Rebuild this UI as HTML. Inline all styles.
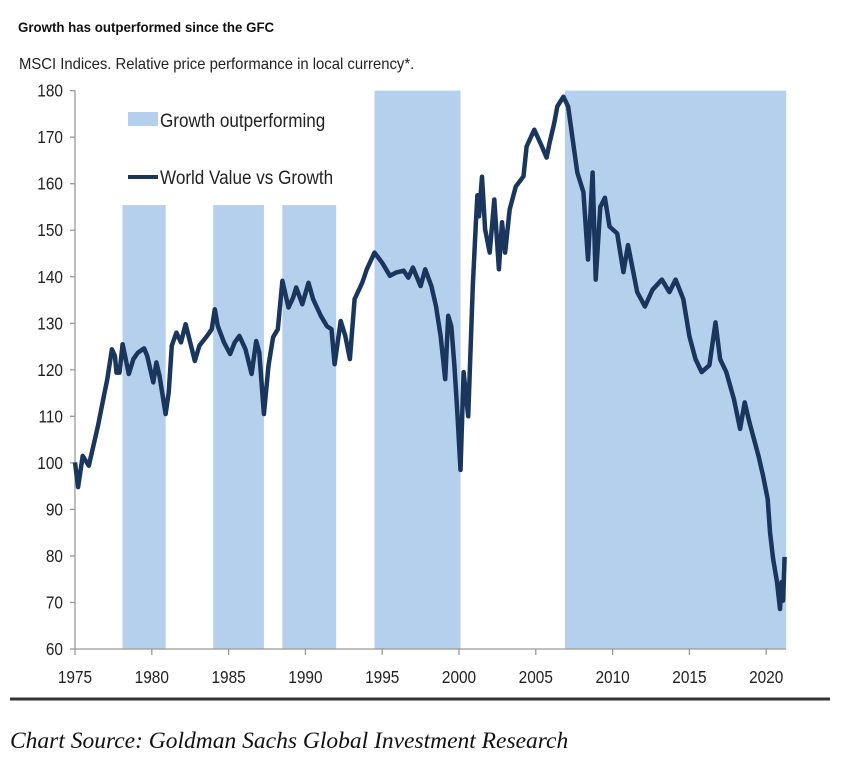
<!DOCTYPE html>
<html><head><meta charset="utf-8"><style>
body{margin:0;background:#fff;}
svg{display:block;font-family:"Liberation Sans",Arial,sans-serif;}
</style></head><body>
<svg id="c" width="846" height="769" viewBox="0 0 846 769">
<text x="18" y="32" font-size="14" font-weight="bold" fill="#111" transform="translate(18,0) scale(0.95,1) translate(-18,0)">Growth has outperformed since the GFC</text>
<text x="19" y="69" font-size="15.8" fill="#222" transform="translate(19,0) scale(0.94,1) translate(-19,0)">MSCI Indices. Relative price performance in local currency*.</text>
<g id="bands"></g>
<g id="axes"></g>
<g id="legend">
<rect x="128" y="112" width="30" height="14" fill="#b4d0ec"/>
<text x="160" y="127" font-size="19" fill="#222" transform="translate(160,0) scale(0.9,1) translate(-160,0)">Growth outperforming</text>
<line x1="128" y1="177" x2="158" y2="177" stroke="#1b365d" stroke-width="4"/>
<text x="160" y="184" font-size="19" fill="#222" transform="translate(160,0) scale(0.9,1) translate(-160,0)">World Value vs Growth</text>
</g>
<path id="line" fill="none" stroke="#1b365d" stroke-width="4.5" stroke-linejoin="round"/>
<line x1="10" y1="699" x2="830" y2="699" stroke="#333" stroke-width="3"/>
<text x="10" y="748" font-size="23.5" font-style="italic" fill="#111" style="font-family:'Liberation Serif',serif">Chart Source: Goldman Sachs Global Investment Research</text>
</svg>
<script>
const bandStarts=[1978.1,1984.0,1988.5,1994.5,2006.9];
const bandEnds=[1980.9,1987.3,1992.0,2000.1,2021.3];
const bandTops=[155.4,155.4,155.4,180,180];
const yTicks=[60,70,80,90,100,110,120,130,140,150,160,170,180];
const xTicks=[1975,1980,1985,1990,1995,2000,2005,2010,2015,2020];
const years=[1975.0,1975.2,1975.5,1975.9,1976.2,1976.5,1976.8,1977.1,1977.4,1977.6,1977.7,1977.9,1978.1,1978.5,1978.8,1979.1,1979.5,1979.7,1980.1,1980.3,1980.5,1980.9,1981.1,1981.3,1981.6,1981.9,1982.2,1982.5,1982.8,1983.1,1983.6,1983.9,1984.1,1984.3,1984.7,1985.1,1985.4,1985.7,1986.1,1986.5,1986.8,1987.0,1987.3,1987.6,1987.9,1988.2,1988.5,1988.9,1989.2,1989.4,1989.8,1990.2,1990.5,1991.0,1991.4,1991.7,1991.9,1992.3,1992.6,1992.9,1993.2,1993.7,1994.0,1994.5,1995.0,1995.5,1995.9,1996.4,1996.7,1997.0,1997.5,1997.8,1998.2,1998.5,1998.8,1999.1,1999.3,1999.5,1999.7,1999.9,2000.1,2000.3,2000.6,2000.9,2001.1,2001.2,2001.3,2001.5,2001.7,2002.0,2002.3,2002.6,2002.8,2003.0,2003.3,2003.7,2004.2,2004.4,2004.9,2005.4,2005.7,2005.9,2006.2,2006.4,2006.8,2007.1,2007.4,2007.7,2008.1,2008.4,2008.7,2008.9,2009.2,2009.5,2009.8,2010.3,2010.7,2011.0,2011.6,2012.1,2012.6,2013.2,2013.7,2014.1,2014.6,2015.0,2015.4,2015.8,2016.3,2016.7,2017.0,2017.4,2017.9,2018.3,2018.6,2018.9,2019.5,2019.8,2020.1,2020.25,2020.45,2020.7,2020.9,2021.0,2021.1,2021.2];
const values=[100.1,94.8,101.5,99.4,103.7,108,113,118,124.4,123,119.4,119.4,125.5,119.1,122.3,123.7,124.6,123,117.3,121.6,118.7,110.5,115.1,125.2,128,125.9,129.8,125.9,121.9,125.2,127.3,128.7,133,129.4,125.9,123.4,125.9,127.3,124.4,119.1,126.2,123.7,110.5,120.9,127,128.7,139.1,133.4,135.5,137.7,134.1,138.7,135.2,131.6,129.4,128.7,121.2,130.5,127.3,122.3,135.2,138.7,141.6,145.2,143,140.2,140.9,141.3,139.8,142,138,141.6,138,133.7,127.3,118,131.6,129.4,120.9,110.2,98.5,119.5,110,138,151.7,157.5,153,161.5,150.2,145.2,156.6,141.6,151.7,145.2,154.5,159.4,161.6,168,171.6,168,165.6,168.8,173,176.6,178.7,176.6,169.5,162.4,158.2,143.7,162.4,139.4,155,157,150.8,149.3,141,146.8,136.7,133.6,137.2,139.4,136.7,139.4,135.2,127.2,122.3,119.5,121,130.2,122.3,119.5,113.7,107.3,113,108.8,101.5,97.2,92.2,85.1,79.4,74.4,68.6,74.4,70.4,79.8];
const NS='http://www.w3.org/2000/svg';
const X0=75,PX_PER_YR=76.8/5,Y0=649,PX_PER_UNIT=46.53/10;
function xs(yr){return X0+(yr-1975)*PX_PER_YR;}
function ys(v){return Y0-(v-60)*PX_PER_UNIT;}
const bands=document.getElementById('bands');
bandStarts.forEach((s,i)=>{
  const r=document.createElementNS(NS,'rect');
  r.setAttribute('x',xs(s));r.setAttribute('y',ys(bandTops[i]));
  r.setAttribute('width',xs(bandEnds[i])-xs(s));r.setAttribute('height',Y0-ys(bandTops[i]));
  r.setAttribute('fill','#b4d0ec');
  
  
  bands.appendChild(r);
});
const axes=document.getElementById('axes');
function ln(x1,y1,x2,y2,name){const l=document.createElementNS(NS,'line');l.setAttribute('x1',x1);l.setAttribute('y1',y1);l.setAttribute('x2',x2);l.setAttribute('y2',y2);l.setAttribute('stroke','#999');l.setAttribute('stroke-width','1.3');


axes.appendChild(l);}
ln(X0,ys(180),X0,Y0,'y-axis');
ln(X0,Y0,xs(2021.3),Y0,'x-axis');
yTicks.forEach(v=>{
  ln(X0-5,ys(v),X0,ys(v),'y-tick');
  const t=document.createElementNS(NS,'text');
  t.setAttribute('x',63);t.setAttribute('y',ys(v)+6);t.setAttribute('text-anchor','end');
  t.setAttribute('font-size','17.5');t.setAttribute('fill','#222');
  t.setAttribute('transform','translate(63,0) scale(0.88,1) translate(-63,0)');
  t.textContent=v;
  
  
  axes.appendChild(t);
});
xTicks.forEach(yr=>{
  const x=xs(yr);
  ln(x,Y0,x,Y0+6,'x-tick');
  const t=document.createElementNS(NS,'text');
  t.setAttribute('x',x);t.setAttribute('y',683);t.setAttribute('text-anchor','middle');
  t.setAttribute('font-size','17.5');t.setAttribute('fill','#222');
  t.setAttribute('transform','translate('+x+',0) scale(0.88,1) translate('+(-x)+',0)');
  t.textContent=yr;
  
  
  axes.appendChild(t);
});
let d='';
years.forEach((yr,i)=>{d+=(i?'L':'M')+xs(yr).toFixed(1)+','+ys(values[i]).toFixed(1);});
document.getElementById('line').setAttribute('d',d);
</script>
</body></html>
